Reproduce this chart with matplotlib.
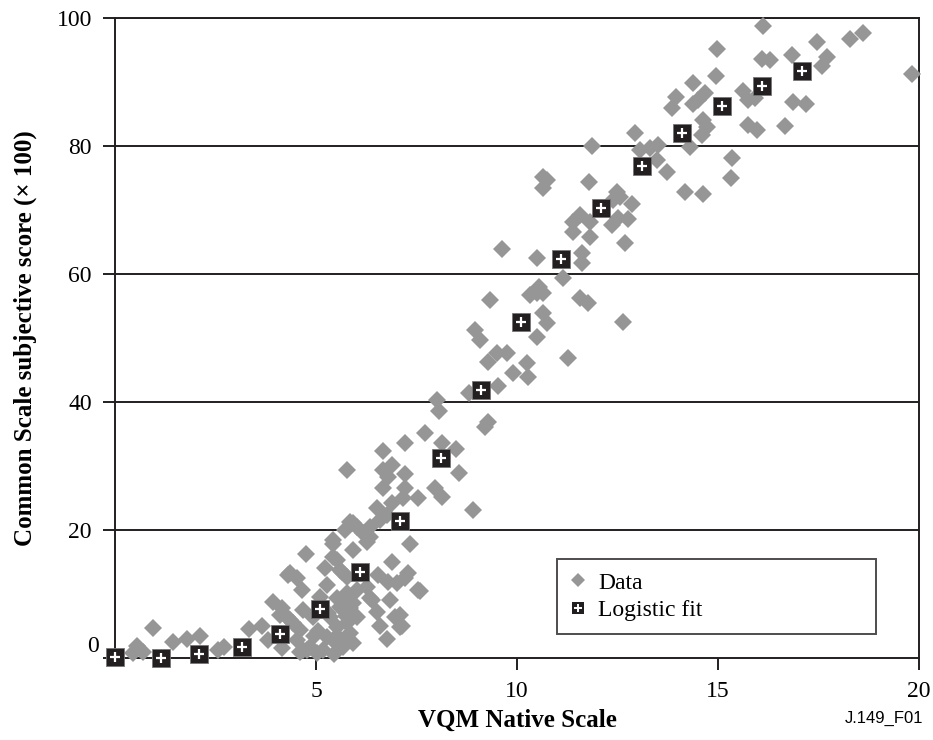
import matplotlib
matplotlib.use("Agg")
import matplotlib.pyplot as plt
from matplotlib.lines import Line2D

# subjective data (VQM native value, common scale score)
data_x = [0.95, 0.55, 0.70, 0.45, 1.44, 1.79, 2.11, 2.56, 2.71, 3.33, 3.66, 3.81, 3.93, 4.15, 4.15,
          4.30, 4.53, 4.65, 4.75, 4.28, 4.43, 4.60, 4.53, 4.78, 4.60, 5.42, 5.92, 6.27, 7.34, 5.22,
          5.52, 5.65, 6.89, 6.54, 6.79, 7.29, 7.59, 4.35, 5.27, 6.34, 6.52, 6.84, 6.97, 7.14, 7.09,
          6.59, 6.77, 4.10, 4.35, 4.85, 5.02, 5.17, 5.35, 5.52, 5.77, 5.85, 5.92, 5.67, 5.42, 5.27,
          6.02, 5.85, 5.60, 5.52, 5.77, 6.02, 5.92, 6.27, 4.93, 4.68, 4.68, 5.77, 6.67, 7.21, 7.71,
          8.13, 6.67, 6.89, 6.79, 7.21, 6.67, 7.21, 7.16, 7.54, 7.96, 8.13, 6.89, 6.52, 6.59, 6.77,
          5.85, 6.02, 6.17, 5.72, 5.42, 6.34, 5.92, 6.34, 5.42, 5.60, 5.77, 7.21, 7.54, 7.01, 6.39,
          7.09, 5.05, 5.30, 5.60, 5.75, 4.95, 5.10, 5.45, 5.70,
          11.87, 12.94, 13.06, 13.31, 13.51, 13.48, 13.73, 14.18, 14.30, 10.65, 10.75, 10.65, 11.79,
          12.49, 12.56, 12.39, 12.86, 11.57, 11.39, 11.82, 11.39, 11.82, 12.51, 12.76, 12.36, 12.69,
          9.63, 10.50, 11.62, 11.62, 11.14, 10.55, 10.50, 10.32, 10.65, 9.33, 11.57, 11.77, 10.65,
          10.75, 12.64, 10.50, 8.96, 9.08, 9.50, 9.75, 9.28, 11.27, 10.25, 10.27, 9.90, 9.53, 8.81,
          8.01, 8.06, 9.28, 9.20, 8.48, 8.56, 8.91,
          16.12, 14.98, 17.46, 18.28, 18.61, 19.83, 16.84, 16.09, 16.29, 17.71, 17.59, 14.95, 14.38,
          13.96, 13.86, 14.68, 14.50, 14.38, 15.62, 15.75, 15.92, 16.87, 17.19, 14.63, 14.73, 14.60,
          15.75, 15.97, 16.67, 15.35, 15.32, 14.63]
data_y = [4.7, 1.9, 0.9, 0.8, 2.5, 3.0, 3.4, 1.25, 1.7, 4.5, 5.0, 2.8, 8.75, 7.8, 1.6,
          13.0, 12.5, 10.6, 16.25, 6.4, 5.5, 4.4, 2.8, 1.25, 0.9, 17.8, 16.9, 18.1, 17.8, 14.1,
          15.3, 13.4, 15.0, 13.0, 11.9, 13.3, 10.5, 13.3, 11.4, 9.4, 7.2, 9.1, 6.4, 5.0, 6.7,
          5.0, 3.0, 6.7, 5.9, 1.7, 0.8, 1.25, 6.4, 4.8, 5.5, 3.9, 2.3, 1.7, 2.8, 3.3,
          6.4, 7.8, 8.0, 9.4, 10.2, 10.6, 8.6, 11.1, 6.4, 7.5, 1.25, 29.4, 32.3, 33.6, 35.2,
          33.6, 29.4, 30.2, 28.3, 28.75, 26.6, 26.6, 25.0, 25.0, 26.6, 25.2, 24.2, 23.4, 21.6, 22.3,
          21.25, 20.5, 19.5, 20.0, 18.4, 20.5, 21.1, 18.9, 15.8, 13.75, 12.7, 12.5, 10.6, 11.7, 9.1,
          4.8, 4.2, 7.0, 3.0, 6.6, 3.5, 9.6, 0.6, 9.0,
          80.0, 82.0, 79.4, 79.7, 80.2, 77.8, 75.9, 72.8, 79.8, 75.2, 74.7, 73.4, 74.4,
          72.8, 72.0, 71.6, 70.9, 69.2, 68.1, 68.1, 66.6, 65.8, 68.75, 68.6, 67.7, 64.8,
          63.9, 62.5, 63.3, 61.7, 59.4, 58.0, 57.0, 56.7, 57.0, 55.9, 56.25, 55.5, 53.9,
          52.3, 52.5, 50.2, 51.25, 49.7, 47.7, 47.7, 46.25, 46.9, 46.1, 43.9, 44.5, 42.5, 41.4,
          40.3, 38.6, 36.9, 36.1, 32.7, 28.9, 23.1,
          98.75, 95.2, 96.25, 96.7, 97.7, 91.25, 94.2, 93.6, 93.4, 93.9, 92.5, 90.9, 89.8,
          87.7, 85.9, 88.3, 87.2, 86.6, 88.6, 87.2, 87.5, 86.9, 86.6, 84.1, 83.0, 81.7,
          83.3, 82.5, 83.1, 78.1, 75.0, 72.5]

# logistic fit
fit_x = [0, 1.15, 2.1, 3.15, 4.1, 5.1, 6.1, 7.1, 8.1, 9.1, 10.1, 11.1, 12.1, 13.1, 14.1, 15.1, 16.1, 17.1]
fit_y = [0.2, 0.0, 0.6, 1.7, 3.7, 7.6, 13.4, 21.4, 31.3, 41.9, 52.5, 62.3, 70.3, 76.9, 82.1, 86.2, 89.4, 91.7]

y_ticks = [0, 20, 40, 60, 80, 100]
x_ticks = [5, 10, 15, 20]

plt.rcParams['font.family'] = ['Liberation Serif', 'DejaVu Serif']
ink = '#231f20'
grey = '#969696'

fig = plt.figure(figsize=(9.33, 7.4), dpi=100)
ax = fig.add_axes([115 / 933, 1 - 658 / 740, 804 / 933, 640 / 740])

ax.set_xlim(0, 20)
ax.set_ylim(0, 100)

for yv in y_ticks[1:]:
    ax.axhline(yv, color=ink, lw=1.4, zorder=1)

ax.plot(data_x, data_y, 'D', color=grey, ms=9, mew=0, clip_on=False, zorder=3)
ax.plot(fit_x, fit_y, 's', color=ink, ms=12.5, mew=0.6, mec='#777777', clip_on=False, zorder=4)
ax.plot(fit_x, fit_y, '+', color='white', ms=7, mew=1.6, clip_on=False, zorder=5)

for s in ax.spines.values():
    s.set_color(ink)
    s.set_linewidth(1.4)

ax.set_xticks(x_ticks)
ax.set_yticks(y_ticks)
ax.set_yticklabels([''] + [str(v) for v in y_ticks[1:]])
ax.tick_params(axis='both', direction='out', length=8.6, width=1.4, color=ink,
               labelsize=17, pad=8)
ax.annotate('0', xy=(0, 0), xycoords='data', xytext=(-16, 11), textcoords='offset pixels',
            ha='right', va='center', fontsize=17)

ax.set_xlabel('VQM Native Scale', fontsize=18, fontweight='bold', labelpad=5)
ax.set_ylabel('Common Scale subjective score (× 100)', fontsize=18, fontweight='bold', labelpad=14)

h_data = Line2D([], [], ls='none', marker='D', color=grey, ms=7, mew=0)
h_sq = Line2D([], [], ls='none', marker='s', color=ink, ms=9, mew=0)
h_pl = Line2D([], [], ls='none', marker='+', color='white', ms=5.5, mew=1.4)
leg = ax.legend([h_data, (h_sq, h_pl)], ['Data', 'Logistic fit'],
                loc='lower left', bbox_to_anchor=(442 / 804, 24 / 640, 319 / 804, 80 / 640),
                mode='expand', borderaxespad=0, fontsize=17, frameon=True, fancybox=False,
                handlelength=0.7, handletextpad=0.5, labelspacing=0.25, borderpad=0.55)
leg.get_frame().set_edgecolor(ink)
leg.get_frame().set_linewidth(1.4)

fig.text(923 / 933, 1 - 718 / 740, 'J.149_F01', family='Liberation Sans', fontsize=12,
         ha='right', va='center')

fig.savefig('out.png', dpi=100)
